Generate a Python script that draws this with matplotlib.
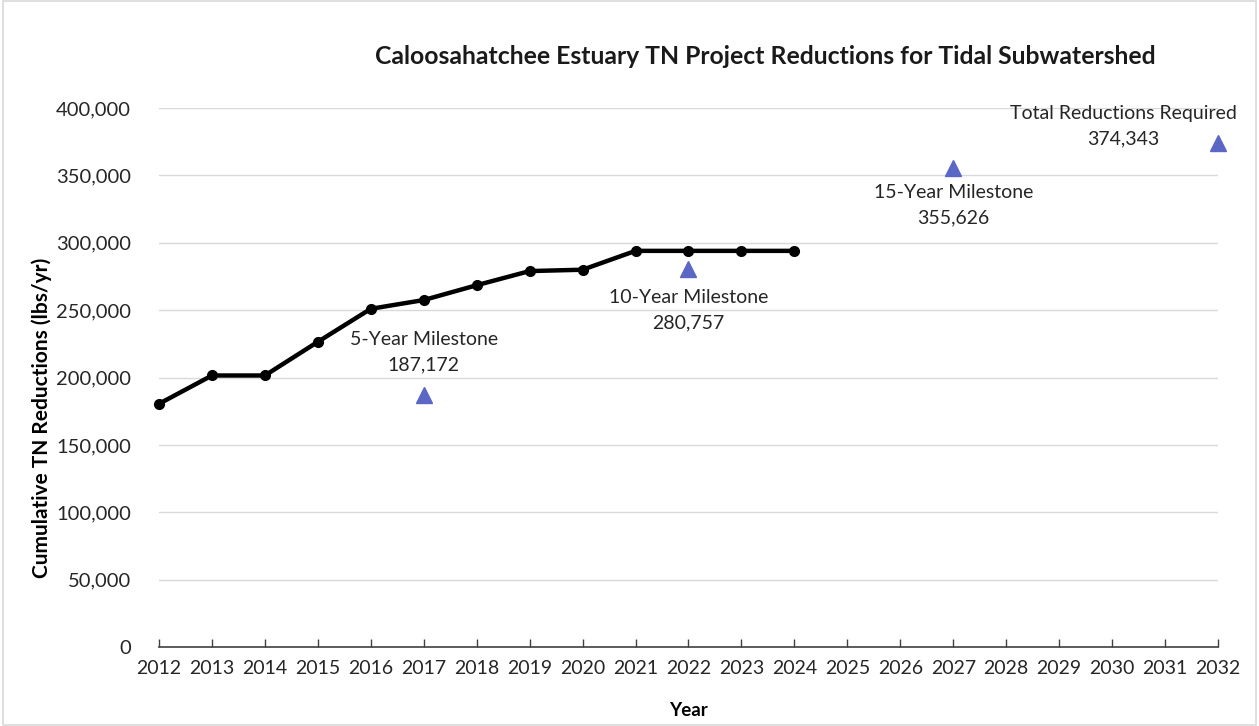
import matplotlib.pyplot as plt
from matplotlib.patches import Rectangle
from matplotlib.ticker import FuncFormatter

plt.rcParams['font.family'] = ['Lato', 'DejaVu Sans']

years = [2012, 2013, 2014, 2015, 2016, 2017, 2018, 2019, 2020, 2021, 2022, 2023, 2024]
reductions = [180500, 201500, 201500, 226500, 251000, 257500, 268500, 279000, 280000,
              294000, 294000, 294000, 294000]

milestone_years = [2017, 2022, 2027, 2032]
milestone_values = [187172, 280757, 355626, 374343]
milestone_names = ["5-Year Milestone", "10-Year Milestone", "15-Year Milestone",
                   "Total Reductions Required"]

year_ticks = list(range(2012, 2033))
y_ticks = list(range(0, 400001, 50000))

fig = plt.figure(figsize=(12.59, 7.26), dpi=100)
ax = fig.add_axes([0.1263, 0.1088, 0.8411, 0.7424])

fig.patches.append(Rectangle((0.002, 0.002), 0.996, 0.996, transform=fig.transFigure,
                             fill=False, edgecolor="#d9d9d9", linewidth=1.2))

ax.plot(years, reductions, color="black", linewidth=3.2, marker="o", markersize=7,
        zorder=3, clip_on=False)
ax.plot(milestone_years, milestone_values, linestyle="none", marker="^", markersize=11,
        color="#5b67c4", zorder=3, clip_on=False)

# milestone labels (offsets in points from the triangle)
offsets = [(0, 31), (0, -30), (0, -27), (-68, 12)]
for yr, val, name, off in zip(milestone_years, milestone_values, milestone_names, offsets):
    ax.annotate(f"{name}\n{val:,}", (yr, val), xytext=off, textcoords="offset points",
                ha="center", va="center", fontsize=14, color="#262626", linespacing=1.6)

ax.set_xlim(2012, 2032)
ax.set_ylim(0, 400000)
ax.set_xticks(year_ticks)
ax.set_yticks(y_ticks)
ax.yaxis.set_major_formatter(FuncFormatter(lambda v, p: f"{int(v):,}"))

ax.grid(axis="y", color="#d9d9d9", linewidth=1.0)
ax.set_axisbelow(True)
for side in ["top", "right", "left"]:
    ax.spines[side].set_visible(False)
ax.spines["bottom"].set_color("#404040")
ax.spines["bottom"].set_linewidth(1.2)

ax.tick_params(axis="x", direction="in", length=6, width=1, color="#404040",
               labelsize=14, labelcolor="#262626", pad=9)
ax.tick_params(axis="y", length=0, labelsize=14.5, labelcolor="#262626", pad=20)

ax.set_xlabel("Year", fontsize=13.5, fontweight="bold", labelpad=18)
ax.set_ylabel("Cumulative TN Reductions (lbs/yr)", fontsize=15, fontweight="bold",
              labelpad=3, y=0.425)
fig.text(0.608, 0.922, "Caloosahatchee Estuary TN Project Reductions for Tidal Subwatershed",
         ha="center", va="center", fontsize=17.8, fontweight="bold", color="#1a1a1a")

fig.savefig("out.png", dpi=100)
